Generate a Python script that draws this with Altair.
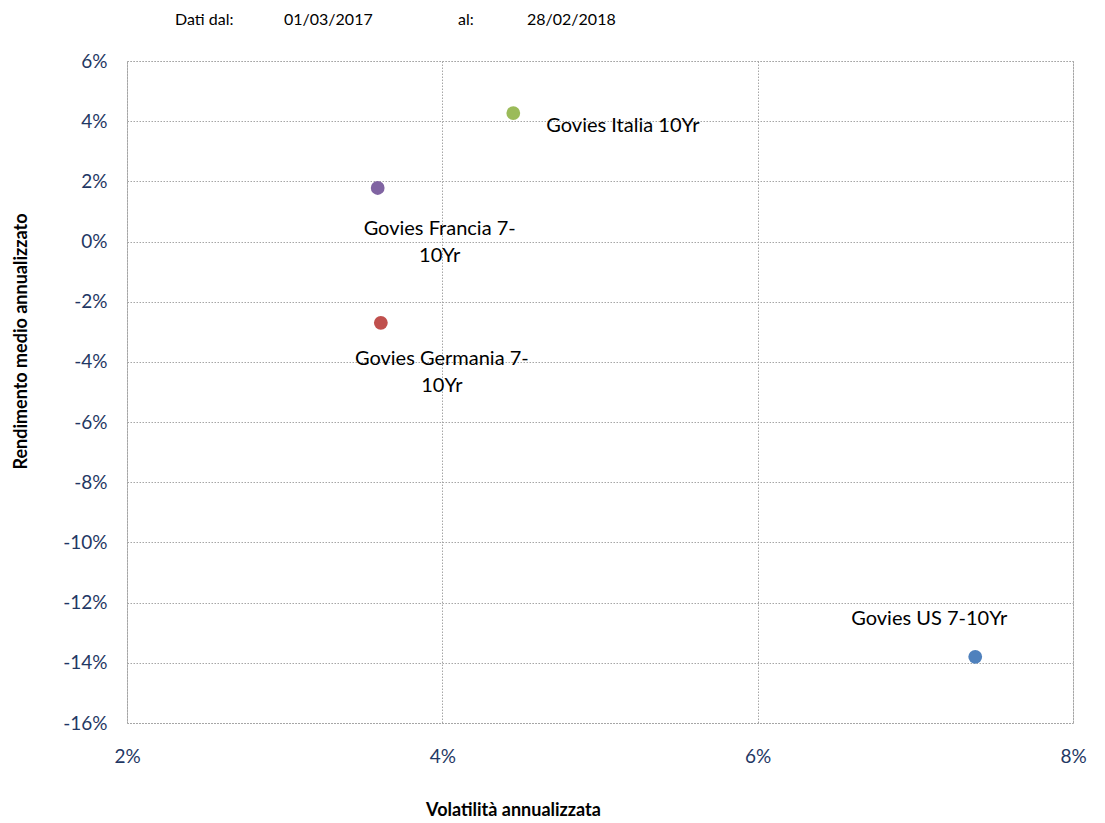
import altair as alt
import pandas as pd

names = ["Govies Italia 10Yr", "Govies Francia 7-10Yr", "Govies Germania 7-10Yr", "Govies US 7-10Yr"]
labels = ["Govies Italia 10Yr", "Govies Francia 7-\n10Yr", "Govies Germania 7-\n10Yr", "Govies US 7-10Yr"]
volatility = [4.45, 3.59, 3.61, 7.38]
returns = [4.27, 1.78, -2.70, -13.80]
colors = ["#9BBB59", "#8064A2", "#C0504D", "#4F81BD"]
x_ticks = [2, 4, 6, 8]
y_ticks = [6, 4, 2, 0, -2, -4, -6, -8, -10, -12, -14, -16]
header = ["Dati dal:", "01/03/2017", "al:", "28/02/2018"]

df = pd.DataFrame({"name": names, "label": labels, "vol": volatility, "ret": returns})

FONT = "Lato"
TICK_COLOR = "#1F3864"

xscale = alt.Scale(domain=[2, 8], nice=False, zero=False)
yscale = alt.Scale(domain=[-16, 6], nice=False, zero=False)

xenc = alt.X("vol:Q", scale=xscale,
             axis=alt.Axis(values=x_ticks, labelExpr="datum.value + '%'", labelFlush=False,
                           title="Volatilità annualizzata", titleX=386, titleY=87,
                           titleBaseline="middle", titleAnchor="start", titleAlign="center"))
yenc = alt.Y("ret:Q", scale=yscale,
             axis=alt.Axis(values=y_ticks, labelExpr="datum.value + '%'", labelFlush=False,
                           title="Rendimento medio annualizzato", titleX=-106, titleY=280,
                           titleBaseline="middle", titleAlign="center", titleAngle=270))

base = alt.Chart(df)

points = base.mark_circle(size=190, opacity=1).encode(
    x=xenc, y=yenc,
    color=alt.Color("name:N", scale=alt.Scale(domain=names, range=colors), legend=None),
)

def lab(name, align, dx, dy):
    return base.transform_filter(alt.datum.name == name).mark_text(
        align=align, baseline="middle", dx=dx, dy=dy, font=FONT, fontSize=20,
        color="#000000", lineBreak="\n", lineHeight=27,
    ).encode(x="vol:Q", y="ret:Q", text="label:N")

text_layers = [
    lab(names[0], "left", 33, 13),
    lab(names[1], "center", 62, 41),
    lab(names[2], "center", 61, 36),
    lab(names[3], "center", -46, -38),
]

hdf = pd.DataFrame({"t": header, "i": [0, 1, 2, 3]})
header_layers = []
for i, xpos in enumerate([48, 157, 331, 400]):
    header_layers.append(
        alt.Chart(hdf).transform_filter(alt.datum.i == i).mark_text(
            align="left", baseline="middle", font=FONT, fontSize=16, color="#000000",
        ).encode(text="t:N", x=alt.value(xpos), y=alt.value(-41))
    )

chart = alt.layer(points, *text_layers, *header_layers).properties(
    width=946, height=662,
    autosize=alt.AutoSizeParams(type="none"),
    padding={"left": 119, "top": 53, "right": 20, "bottom": 100},
).configure_view(
    stroke="#A6A6A6", strokeDash=[1.5, 1.5], strokeWidth=1,
).configure_axis(
    grid=True, gridColor="#A6A6A6", gridDash=[1.5, 1.5], gridWidth=1, gridOpacity=1,
    domain=False, ticks=False,
    labelFont=FONT, labelFontSize=19, labelColor=TICK_COLOR,
    titleFont=FONT, titleFontSize=18, titleFontWeight="bold", titleColor="#000000",
).configure_axisX(
    labelPadding=24,
).configure_axisY(
    labelPadding=20,
)

chart.save("out.html", embed_options={"renderer": "svg", "actions": False})
